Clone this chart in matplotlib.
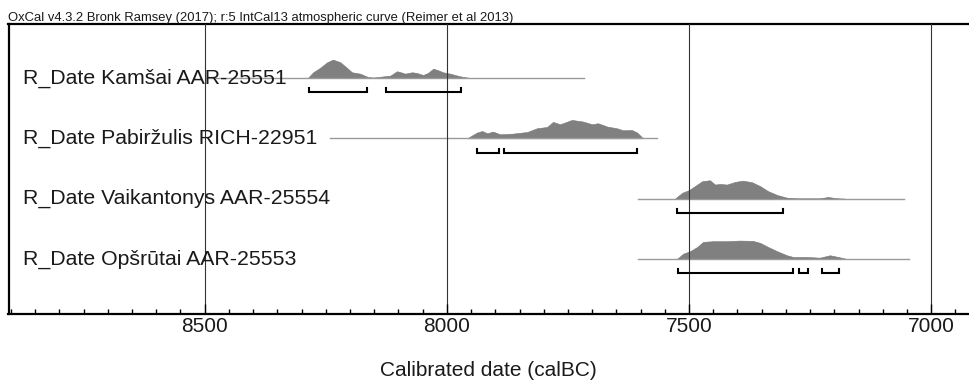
import numpy as np
import matplotlib
matplotlib.use('Agg')
import matplotlib.pyplot as plt
from matplotlib.ticker import MultipleLocator
import matplotlib.transforms as mtransforms

plt.rcParams['font.family'] = ['Liberation Sans', 'DejaVu Sans']

title = 'OxCal v4.3.2 Bronk Ramsey (2017); r:5 IntCal13 atmospheric curve (Reimer et al 2013)'

labels = ['R_Date Kamšai AAR-25551',
          'R_Date Pabiržulis RICH-22951',
          'R_Date Vaikantonys AAR-25554',
          'R_Date Opšrūtai AAR-25553']

# probability curves (calBC, relative height)
kamsai_yr = [8287, 8276, 8262, 8247, 8235, 8220, 8206, 8196, 8179, 8163, 8152,
             8117, 8103, 8095, 8086, 8072, 8062, 8049, 8039, 8028, 8018, 8008,
             7993, 7973, 7952]
kamsai_p = [0, 5.7, 10, 15.7, 18.3, 15.7, 10, 5.7, 4.3, 1, 0.5,
            2.3, 6.7, 5.7, 4.3, 5.7, 5, 3, 5, 9.3, 7.7, 5.7,
            4.3, 1.7, 0]

pabirz_yr = [7958, 7938, 7927, 7917, 7905, 7890, 7863, 7834, 7814, 7793, 7781,
             7766, 7742, 7719, 7700, 7688, 7669, 7649, 7636, 7618, 7607, 7595]
pabirz_p = [0, 5.7, 7.3, 5, 6.7, 4, 4.7, 6.3, 10, 11.3, 16.3,
            14, 18.3, 16.7, 14, 15, 11.7, 10, 8, 8.3, 5.7, 0]

vaik_yr = [7529, 7514, 7500, 7488, 7473, 7457, 7446, 7436, 7422, 7405, 7389,
           7370, 7353, 7337, 7318, 7298, 7277, 7230, 7213, 7194, 7178]
vaik_p = [0, 6, 8.7, 12.7, 17.7, 18.7, 14.3, 15, 14.3, 17, 18.3,
          16.7, 12.7, 7.7, 3.7, 1, 0.3, 0.3, 1.7, 0.3, 0]

opsr_yr = [7525, 7512, 7498, 7483, 7471, 7450, 7422, 7395, 7368, 7353, 7337,
           7318, 7298, 7285, 7256, 7230, 7209, 7192, 7174]
opsr_p = [0, 5.3, 7.7, 12, 17, 17.7, 17.7, 18.3, 18, 16, 12,
          7.7, 3.7, 2, 2, 1.3, 3.7, 2, 0]

# extent of the thin base line of each curve
line_ranges = [(8495, 7717), (8241, 7566), (7605, 7056), (7605, 7046)]

# 95.4% ranges (brackets)
ranges = [[(8285, 8165), (8125, 7970)],
          [(7938, 7892), (7882, 7607)],
          [(7525, 7306)],
          [(7523, 7285), (7273, 7255), (7226, 7190)]]

years = [kamsai_yr, pabirz_yr, vaik_yr, opsr_yr]
probs = [kamsai_p, pabirz_p, vaik_p, opsr_p]
rows = [4, 3, 2, 1]

fig = plt.figure(figsize=(9.69, 3.8), dpi=100)
ax = fig.add_axes([8.5/969, 66/380, 960.5/969, 290/380])

peak_h = 0.305
for r, yr, p, (l0, l1) in zip(rows, years, probs, line_ranges):
    p = np.array(p, dtype=float)
    p = p / p.max() * peak_h
    ax.plot([l0, l1], [r, r], color='#9a9a9a', lw=1.0, zorder=1.5)
    ax.fill_between(yr, r, r + p, color='#808080', lw=0.4, edgecolor='#777777', zorder=1)

yb_off = 0.24
tick_h = 0.066
for r, rr in zip(rows, ranges):
    yb = r - yb_off
    for a, b in rr:
        ax.plot([a, a, b, b], [yb + tick_h, yb, yb, yb + tick_h],
                color='black', lw=1.5, solid_joinstyle='miter', zorder=3)

trans = mtransforms.blended_transform_factory(ax.transAxes, ax.transData)
for r, lab in zip(rows, labels):
    ax.text(0.0151, r - 0.091, lab, transform=trans, fontsize=15.3,
            color='#1a1a1a', va='baseline', ha='left', zorder=4)

ax.set_xlim(8905, 6922)
ax.set_ylim(0.088, 4.895)
ax.xaxis.set_major_locator(MultipleLocator(500))
ax.xaxis.set_minor_locator(MultipleLocator(50))
ax.set_yticks([])
ax.tick_params(axis='x', which='major', direction='in', length=7, width=1,
               labelsize=15, pad=2, labelcolor='#1a1a1a')
ax.tick_params(axis='x', which='minor', direction='in', length=3.5, width=1)
ax.grid(axis='x', which='major', color='0.2', lw=0.8)
ax.set_axisbelow(False)

for s in ['top', 'left', 'bottom']:
    ax.spines[s].set_linewidth(1.6)
ax.spines['right'].set_visible(False)

ax.set_xlabel('Calibrated date (calBC)', fontsize=15, labelpad=18, color='#1a1a1a')

fig.text(8/969, 1 - 20.5/380, title, fontsize=9.4, va='baseline', ha='left', color='#1a1a1a')

fig.savefig('out.png', dpi=100)
